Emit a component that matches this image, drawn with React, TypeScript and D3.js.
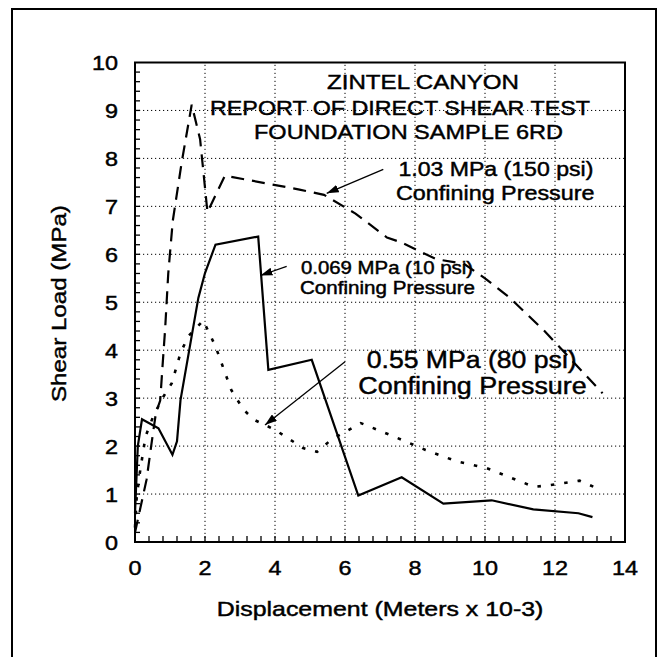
import React from "react";
import * as d3 from "d3";

// ---- data ----
const xTicks = [0, 2, 4, 6, 8, 10, 12, 14];
const yTicks = [0, 1, 2, 3, 4, 5, 6, 7, 8, 9, 10];
const xGrid = [2, 4, 6, 8, 10, 12];
const yGrid = [1, 2, 3, 4, 5, 6, 7, 8, 9];
const xLabel = "Displacement (Meters x 10-3)";
const yLabel = "Shear Load (MPa)";
const titleLines = ["ZINTEL CANYON", "REPORT OF DIRECT SHEAR TEST", "FOUNDATION SAMPLE 6RD"];

// 0.069 MPa (10 psi) - solid
const solidX = [0, 0.08, 0.2, 0.67, 1.07, 1.2, 1.3, 1.81, 2.0, 2.3, 3.52, 3.81, 5.05, 6.38, 7.62, 8.81, 10.19, 11.38, 12.67, 13.07];
const solidY = [0.6, 2.0, 2.56, 2.37, 1.82, 2.1, 2.96, 5.09, 5.61, 6.2, 6.37, 3.59, 3.8, 0.97, 1.35, 0.8, 0.87, 0.68, 0.6, 0.52];

// 1.03 MPa (150 psi) - dashed
const dashX = [0, 0.33, 0.5, 0.6, 0.72, 0.78, 0.86, 0.95, 1.08, 1.33, 1.62, 1.86, 2.07, 2.57, 4.7, 5.4, 6.3, 7.2, 7.6, 8.6, 9.4, 10.0, 10.7, 11.7, 13.36];
const dashY = [0.2, 1.3, 2.2, 2.7, 2.95, 3.6, 4.43, 5.6, 6.7, 7.9, 9.12, 8.4, 6.88, 7.64, 7.35, 7.24, 6.85, 6.35, 6.25, 5.9, 5.8, 5.5, 5.1, 4.4, 3.1];

// 0.55 MPa (80 psi) - dotted
const dotX = [0, 0.05, 0.14, 0.3, 0.52, 0.81, 1.05, 1.3, 1.52, 1.95, 2.3, 2.75, 3.1, 3.4, 4.0, 4.8, 5.2, 5.6, 6.45, 7.4, 8.3, 9.2, 10.05, 11.4, 11.8, 12.7, 13.11];
const dotY = [0.3, 0.95, 1.45, 2.2, 2.62, 3.03, 3.31, 3.94, 4.29, 4.62, 4.08, 3.17, 2.76, 2.55, 2.34, 1.96, 1.88, 2.13, 2.48, 2.2, 1.92, 1.68, 1.54, 1.15, 1.18, 1.28, 1.15];

const label150 = ["1.03 MPa (150 psi)", "Confining Pressure"];
const label10 = ["0.069 MPa (10 psi)", "Confining Pressure"];
const label80 = ["0.55 MPa (80 psi)", "Confining Pressure"];

const W = 668;
const H = 657;
const FONT = "'Liberation Sans', Arial, Helvetica, sans-serif";

export default function App() {
  const x = d3.scaleLinear().domain([0, 14]).range([135, 625]);
  const y = d3.scaleLinear().domain([0, 10]).range([542, 62.5]);
  const line = d3
    .line<[number, number]>()
    .x((d) => x(d[0]))
    .y((d) => y(d[1]));
  const zip = (xs: number[], ys: number[]) => xs.map((v, i) => [v, ys[i]] as [number, number]);

  const minorX = d3.range(1, 35).map((i) => i * 0.4);
  const minorY = d3.range(1, 50).map((i) => i * 0.2);

  const digitW = 13;
  const heavy = { stroke: "#000", strokeWidth: 0.45 } as const;

  return (
    <svg
      width={W}
      height={H}
      style={{ position: "absolute", left: 0, top: 0, background: "#fff" }}
      fontFamily={FONT}
    >
      <defs>
        <marker
          id="ah"
          viewBox="0 0 12 8"
          refX={12}
          refY={4}
          markerWidth={12}
          markerHeight={8}
          markerUnits="userSpaceOnUse"
          orient="auto"
        >
          <path d="M0,0L12,4L0,8z" fill="#000" />
        </marker>
      </defs>
      <rect x={0} y={0} width={W} height={H} fill="#fff" />
      {/* outer frame */}
      <rect x={12} y={9} width={644} height={670} fill="none" stroke="#000" strokeWidth={2} />

      {/* grid */}
      <g stroke="#000" strokeWidth={1} strokeDasharray="1.2,2.8">
        {xGrid.map((v) => (
          <line key={"gx" + v} x1={x(v)} x2={x(v)} y1={y(0)} y2={y(10)} />
        ))}
        {yGrid.map((v) => (
          <line key={"gy" + v} x1={x(0)} x2={x(14)} y1={y(v)} y2={y(v)} />
        ))}
      </g>

      {/* ticks */}
      <g stroke="#000" strokeWidth={1.3}>
        {minorX.map((v, i) => (
          <line key={"tx" + i} x1={x(v)} x2={x(v)} y1={y(0)} y2={y(0) - 6} />
        ))}
        {minorY.map((v, i) => (
          <line key={"ty" + i} x1={x(0)} x2={x(0) + 5} y1={y(v)} y2={y(v)} />
        ))}
      </g>

      {/* plot frame */}
      <rect
        x={x(0)}
        y={y(10)}
        width={x(14) - x(0)}
        height={y(0) - y(10)}
        fill="none"
        stroke="#000"
        strokeWidth={2}
      />

      {/* tick labels */}
      <g fontSize={20} fill="#000" {...heavy}>
        {xTicks.map((v) => (
          <text
            key={"lx" + v}
            x={x(v)}
            y={575}
            textAnchor="middle"
            textLength={String(v).length * digitW}
            lengthAdjust="spacingAndGlyphs"
          >
            {v}
          </text>
        ))}
        {yTicks.map((v) => (
          <text
            key={"ly" + v}
            x={118}
            y={y(v) + 7.5}
            textAnchor="end"
            textLength={String(v).length * digitW}
            lengthAdjust="spacingAndGlyphs"
          >
            {v}
          </text>
        ))}
      </g>

      {/* axis titles */}
      <g fill="#000" {...heavy}>
        <text x={216.7} y={616} fontSize={21} textLength={326.7} lengthAdjust="spacingAndGlyphs">
          {xLabel}
        </text>
        <text
          transform="translate(66,303.6) rotate(-90)"
          textAnchor="middle"
          fontSize={21}
          textLength={197}
          lengthAdjust="spacingAndGlyphs"
        >
          {yLabel}
        </text>
      </g>

      {/* title */}
      <g fontSize={21} fill="#000" {...heavy}>
        <text x={327} y={89.3} textLength={192} lengthAdjust="spacingAndGlyphs">
          {titleLines[0]}
        </text>
        <text x={210} y={115} textLength={380} lengthAdjust="spacingAndGlyphs">
          {titleLines[1]}
        </text>
        <text x={254} y={138.5} textLength={309} lengthAdjust="spacingAndGlyphs">
          {titleLines[2]}
        </text>
      </g>

      {/* curves */}
      <path d={line(zip(solidX, solidY)) || ""} fill="none" stroke="#000" strokeWidth={2.2} strokeLinejoin="miter" />
      <path
        d={line(zip(dashX, dashY)) || ""}
        fill="none"
        stroke="#000"
        strokeWidth={2.2}
        strokeDasharray="13,8"
      />
      <path
        d={line(zip(dotX, dotY)) || ""}
        fill="none"
        stroke="#000"
        strokeWidth={2.6}
        strokeDasharray="3.5,10"
      />

      {/* annotations */}
      <g fill="#000" {...heavy}>
        <text x={398.4} y={176} fontSize={20} textLength={195} lengthAdjust="spacingAndGlyphs">
          {label150[0]}
        </text>
        <text x={396} y={200} fontSize={20} textLength={198.5} lengthAdjust="spacingAndGlyphs">
          {label150[1]}
        </text>
        <text x={301} y={274.3} fontSize={17.5} textLength={172} lengthAdjust="spacingAndGlyphs">
          {label10[0]}
        </text>
        <text x={300} y={294} fontSize={17.5} textLength={175} lengthAdjust="spacingAndGlyphs">
          {label10[1]}
        </text>
        <text x={366.7} y={368.3} fontSize={23} textLength={210} lengthAdjust="spacingAndGlyphs">
          {label80[0]}
        </text>
        <text x={358.3} y={394} fontSize={23} textLength={228.4} lengthAdjust="spacingAndGlyphs">
          {label80[1]}
        </text>
      </g>
      <g stroke="#000" strokeWidth={1.3}>
        <line x1={383.3} y1={169.3} x2={326.7} y2={193.3} markerEnd="url(#ah)" />
        <line x1={286.7} y1={266.3} x2={260.5} y2={275.5} markerEnd="url(#ah)" />
        <line x1={345} y1={361.7} x2={265} y2={425} markerEnd="url(#ah)" />
      </g>
    </svg>
  );
}
